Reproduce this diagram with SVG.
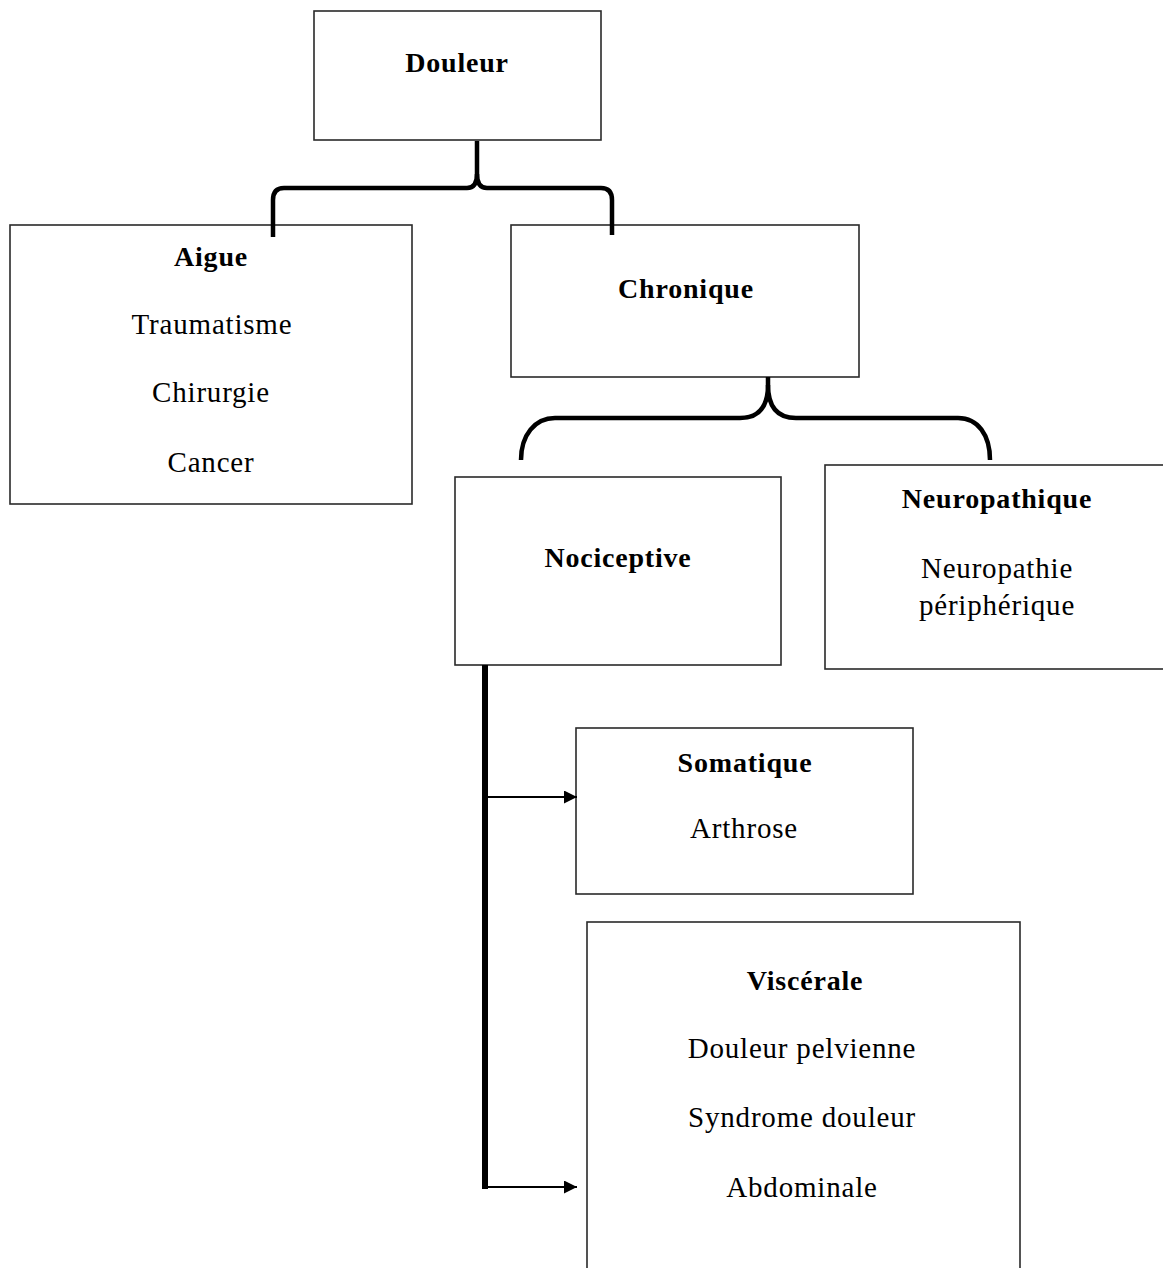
<svg xmlns="http://www.w3.org/2000/svg" width="1163" height="1268" viewBox="0 0 1163 1268">
<defs>
<style>
.box{fill:#fff;stroke:#2a2a2a;stroke-width:1.6}
.t{font-family:"Liberation Serif","Times New Roman",serif;font-size:29px;fill:#000;text-anchor:middle;letter-spacing:0.8px}
.b{font-weight:bold;font-size:28px}
.brace{fill:none;stroke:#000;stroke-width:4.5;stroke-linecap:butt}
.arr{fill:none;stroke:#000;stroke-width:2.2}
</style>
<marker id="ah" viewBox="0 0 10 10" refX="10" refY="5" markerWidth="14" markerHeight="13" markerUnits="userSpaceOnUse" orient="auto">
<path d="M0,0 L10,5 L0,10 z" fill="#000"/>
</marker>
</defs>
<rect width="1163" height="1268" fill="#fff"/>
<g id="douleur">
<rect class="box" x="314" y="11" width="287" height="129"/>
<text class="t b" x="457" y="72">Douleur</text>
</g>
<g id="aigue">
<rect class="box" x="10" y="225" width="402" height="279"/>
<text class="t b" x="211" y="266">Aigue</text>
<text class="t" x="212" y="334">Traumatisme</text>
<text class="t" x="211" y="402">Chirurgie</text>
<text class="t" x="211" y="472">Cancer</text>
</g>
<g id="chronique">
<rect class="box" x="511" y="225" width="348" height="152"/>
<text class="t b" x="686" y="298">Chronique</text>
</g>
<g id="nociceptive">
<rect class="box" x="455" y="477" width="326" height="188"/>
<text class="t b" x="618" y="567">Nociceptive</text>
</g>
<g id="neuropathique">
<rect class="box" x="825" y="465" width="400" height="204"/>
<text class="t b" x="997" y="508">Neuropathique</text>
<text class="t" x="997" y="578">Neuropathie</text>
<text class="t" x="997" y="615">périphérique</text>
</g>
<g id="somatique">
<rect class="box" x="576" y="728" width="337" height="166"/>
<text class="t b" x="745" y="772">Somatique</text>
<text class="t" x="744" y="838">Arthrose</text>
</g>
<g id="viscerale">
<rect class="box" x="587" y="922" width="433" height="400"/>
<text class="t b" x="805" y="990">Viscérale</text>
<text class="t" x="802" y="1058">Douleur pelvienne</text>
<text class="t" x="802" y="1127">Syndrome douleur</text>
<text class="t" x="802" y="1197">Abdominale</text>
</g>
<g id="connectors">
<path class="brace" d="M477,141 L477,174 Q477,188 467,188 L284,188 Q273,188 273,200 L273,237"/>
<path class="brace" d="M477,174 Q477,188 487,188 L601,188 Q612,188 612,200 L612,235"/>
<path class="brace" d="M768,377 L768,385 C768,405 760,418 740,418 L555,418 C535,418 521,435 521,460"/>
<path class="brace" d="M768,385 C768,405 776,418 796,418 L958,418 C978,418 990,435 990,460"/>
<line x1="485" y1="665" x2="485" y2="1189" stroke="#000" stroke-width="6"/>
<line class="arr" x1="485" y1="797" x2="577" y2="797" marker-end="url(#ah)"/>
<line class="arr" x1="485" y1="1187" x2="577" y2="1187" marker-end="url(#ah)"/>
</g>
</svg>
